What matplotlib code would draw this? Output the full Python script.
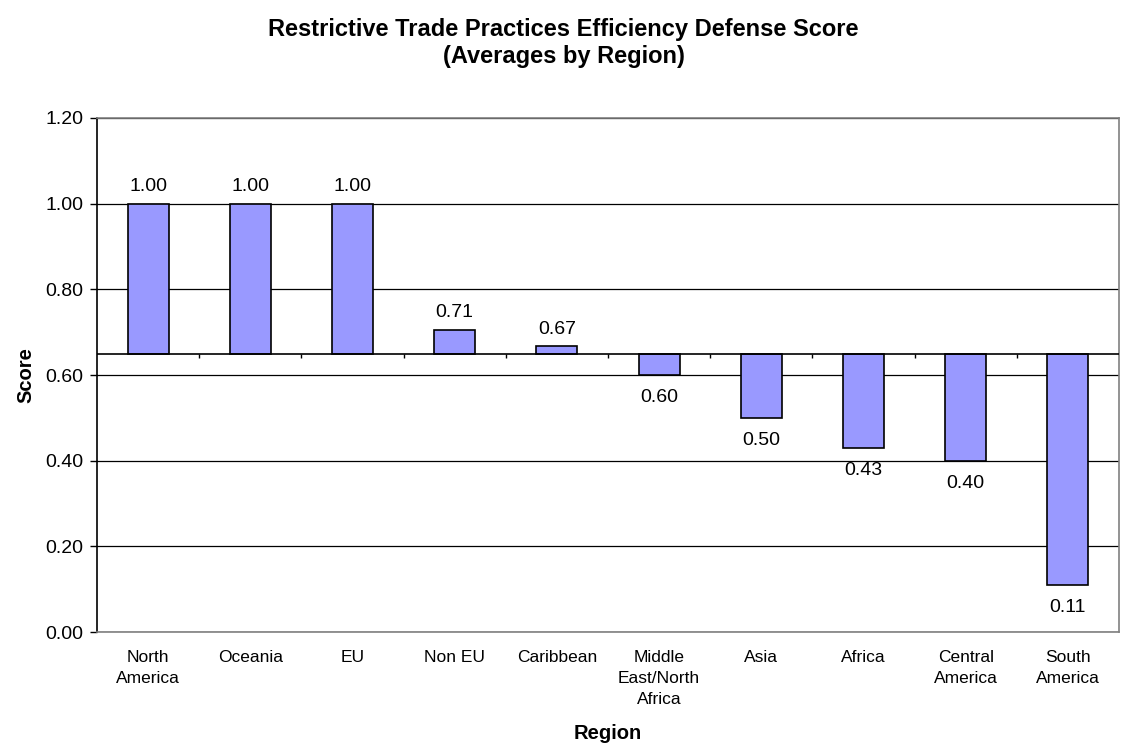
import matplotlib.pyplot as plt
import numpy as np

plt.rcParams["font.family"] = ["Liberation Sans", "DejaVu Sans"]

regions = ["North\nAmerica", "Oceania", "EU", "Non EU", "Caribbean",
           "Middle\nEast/North\nAfrica", "Asia", "Africa", "Central\nAmerica", "South\nAmerica"]
scores = [1.00, 1.00, 1.00, 0.706, 0.667, 0.60, 0.50, 0.43, 0.40, 0.11]
base = 0.65
y_ticks = [0.0, 0.2, 0.4, 0.6, 0.8, 1.0, 1.2]

fig = plt.figure(figsize=(11.27, 7.5), dpi=100)
ax = fig.add_axes([0.0861, 0.1573, 0.9068, 0.6854])

x = np.arange(len(regions))
vals = np.array(scores)
ax.bar(x, vals - base, bottom=base, width=0.4, color="#9999FF",
       edgecolor="black", linewidth=1.2, zorder=3)

for xi, v in zip(x, vals):
    if v >= base:
        ax.annotate(f"{v:.2f}", (xi, v), xytext=(0, 6), textcoords="offset points",
                    ha="center", va="bottom", fontsize=14)
    else:
        ax.annotate(f"{v:.2f}", (xi, v), xytext=(0, -10), textcoords="offset points",
                    ha="center", va="top", fontsize=14)

# category axis crossing at base value
ax.axhline(base, color="black", linewidth=1.2, zorder=4)
bounds = np.arange(len(regions) + 1) - 0.5
ax.vlines(bounds[1:-1], base - 0.011, base, color="black", linewidth=1.0, zorder=4)

ax.set_xlim(-0.5, len(regions) - 0.5)
ax.set_ylim(0, 1.2)
ax.set_yticks(y_ticks)
ax.set_yticklabels([f"{t:.2f}" for t in y_ticks], fontsize=14)
ax.yaxis.grid(True, color="black", linewidth=0.9)
ax.set_axisbelow(True)

ax.set_xticks(x)
ax.set_xticklabels(regions, fontsize=12.5, linespacing=1.5)
ax.tick_params(axis="x", length=0, pad=13)
ax.tick_params(axis="y", length=5, width=1, direction="out", color="black", pad=5)

for side in ["top", "right", "bottom"]:
    ax.spines[side].set_color("#808080")
    ax.spines[side].set_linewidth(1.2)
ax.spines["left"].set_color("black")
ax.spines["left"].set_linewidth(1.2)

ax.set_xlabel("Region", fontsize=14.5, fontweight="bold", labelpad=12)
ax.set_ylabel("Score", fontsize=14.5, fontweight="bold", labelpad=7)

fig.suptitle("Restrictive Trade Practices Efficiency Defense Score\n(Averages by Region)",
             fontsize=17, fontweight="bold", y=0.976, linespacing=1.2)

fig.savefig("out.png", dpi=100)
